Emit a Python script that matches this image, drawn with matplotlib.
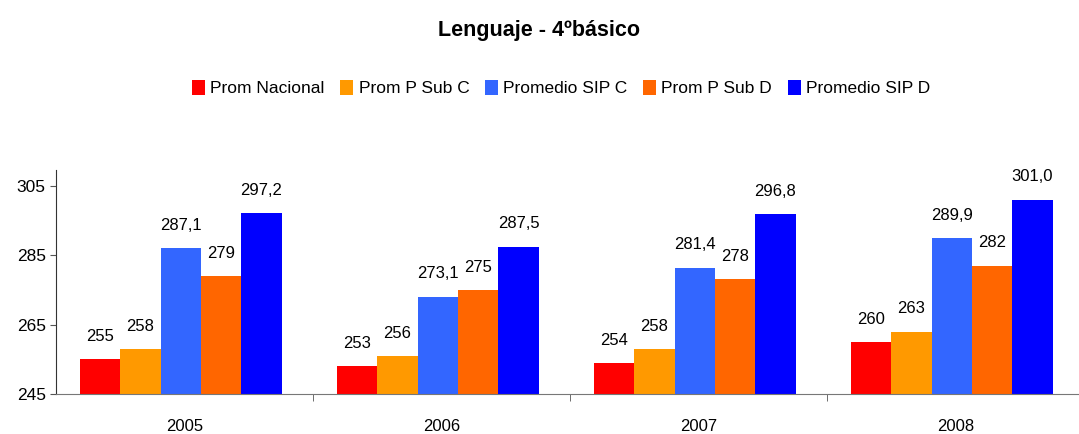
import matplotlib.pyplot as plt
import numpy as np

plt.rcParams['font.family'] = ['Liberation Sans', 'DejaVu Sans']

years = ["2005", "2006", "2007", "2008"]
series_names = ["Prom Nacional", "Prom P Sub C", "Promedio SIP C", "Prom P Sub D", "Promedio SIP D"]
prom_nacional = [255, 253, 254, 260]
prom_p_sub_c = [258, 256, 258, 263]
promedio_sip_c = [287.1, 273.1, 281.4, 289.9]
prom_p_sub_d = [279, 275, 278, 282]
promedio_sip_d = [297.2, 287.5, 296.8, 301.0]
decimals = [0, 0, 1, 0, 1]
colors = ["#FF0000", "#FF9900", "#3366FF", "#FF6600", "#0000FF"]

series = [prom_nacional, prom_p_sub_c, promedio_sip_c, prom_p_sub_d, promedio_sip_d]

fig = plt.figure(figsize=(10.79, 4.34), dpi=100)
ax = fig.add_axes([0.052, 0.092, 0.948, 0.516])

x = np.arange(len(years))
w = 0.157
base = 245
for i, (vals, name, col, dec) in enumerate(zip(series, series_names, colors, decimals)):
    pos = x + (i - 2) * w - 0.015
    heights = [v - base for v in vals]
    ax.bar(pos, heights, w, bottom=base, color=col, label=name, zorder=2)
    for px, v in zip(pos, vals):
        txt = f"{v:.{dec}f}".replace(".", ",")
        ax.annotate(txt, (px, v), xytext=(0, 11), textcoords="offset points",
                    ha="center", va="bottom", fontsize=12, annotation_clip=False)

ax.set_ylim(245, 309.5)
ax.set_xlim(-0.5, 3.48)
ax.set_yticks([245, 265, 285, 305])
ax.tick_params(axis="y", labelsize=12.5, length=4, color="#555555")
ax.set_xticks(x)
ax.set_xticklabels(years, fontsize=12)
ax.set_xticks(np.arange(0.5, 3.5, 1), minor=True)
ax.tick_params(axis="x", which="major", length=0, pad=18)
ax.tick_params(axis="x", which="minor", length=5, color="#555555")

for s in ["top", "right"]:
    ax.spines[s].set_visible(False)
ax.spines["left"].set_color("#333333")
ax.spines["bottom"].set_color("#777777")

fig.text(0.5, 0.93, "Lenguaje - 4ºbásico", ha="center", va="center",
         fontsize=15.5, fontweight="bold")
fig.legend(loc="center", bbox_to_anchor=(0.52, 0.797), ncol=5, frameon=False,
           fontsize=12.5, handlelength=0.75, handleheight=1.0, handletextpad=0.3,
           columnspacing=0.9)

fig.savefig("out.png", dpi=100)
